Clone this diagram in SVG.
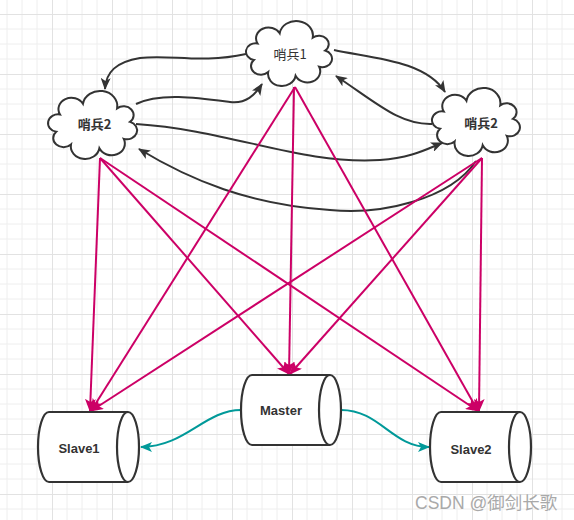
<svg xmlns="http://www.w3.org/2000/svg" xmlns:xlink="http://www.w3.org/1999/xlink" width="574" height="520" viewBox="0 0 574 520">
<style>
.cloud{fill:#ffffff;stroke:#333333;stroke-width:2;}
.cyl{fill:#ffffff;stroke:#333333;stroke-width:2.2;}
.cylin{fill:none;stroke:#333333;stroke-width:2.2;}
.lbl{font-family:"Liberation Sans","Noto Sans CJK SC",sans-serif;font-size:13px;font-weight:bold;fill:#333333;text-anchor:middle;}
.cn{font-family:"Noto Sans CJK SC",sans-serif;font-size:13px;fill:#333333;text-anchor:middle;}
.dark{fill:none;stroke:#333333;stroke-width:2;marker-end:url(#ad);}
.mag{fill:none;stroke:#cc0066;stroke-width:2;marker-end:url(#am);}
.teal{fill:none;stroke:#009999;stroke-width:2;marker-end:url(#at);}
.wm{font-family:"Liberation Sans","Noto Sans CJK SC",sans-serif;font-size:17.5px;fill:#a9a9a9;}
</style>
<defs>
<pattern id="grid" patternUnits="userSpaceOnUse" x="52" y="14" width="60" height="60">
<path d="M15 0V60M30 0V60M45 0V60M0 15H60M0 30H60M0 45H60" stroke="#eeeeee" stroke-width="1" fill="none"/>
<path d="M0.5 0V60M0 0.5H60" stroke="#e2e2e2" stroke-width="1" fill="none"/>
</pattern>
<path id="cloudp" vector-effect="non-scaling-stroke" d="M16.3 24 A1 1 0 0 1 35.7 13.7 A1 1 0 0 1 64.6 18.1 A1 1 0 0 1 75.5 31.2 A1 1 0 0 1 70.2 47.6 A1 1 0 0 1 49.6 56.7 A1 1 0 0 1 25.6 53 A1 1 0 0 1 13.1 40.7 A1 1 0 0 1 16.3 24 Z"/>
<marker id="ad" viewBox="0 0 12 10" markerUnits="userSpaceOnUse" markerWidth="12" markerHeight="10" refX="11" refY="5" orient="auto">
<path d="M0 0 L12 5 L0 10 L3 5 Z" fill="#333333"/>
</marker>
<marker id="am" viewBox="0 0 13 11" markerUnits="userSpaceOnUse" markerWidth="13" markerHeight="11" refX="12" refY="5.5" orient="auto">
<path d="M0 0 L13 5.5 L0 11 L3 5.5 Z" fill="#cc0066"/>
</marker>
<marker id="at" viewBox="0 0 12 10" markerUnits="userSpaceOnUse" markerWidth="12" markerHeight="10" refX="11" refY="5" orient="auto">
<path d="M0 0 L12 5 L0 10 L3 5 Z" fill="#009999"/>
</marker>
</defs>
<rect x="0" y="0" width="574" height="520" fill="#ffffff"/>
<rect x="0" y="0" width="574" height="520" fill="url(#grid)"/>

<g id="connectors">
<path class="dark" d="M246 54 C200 64, 170 54, 140 58 C116 62, 106 72, 105 89"/>
<path class="dark" d="M136 104 C160 92, 200 98, 230 102 C246 104, 255 95, 262 84"/>
<path class="dark" d="M334 50 C370 58, 425 60, 445 92"/>
<path class="dark" d="M432 124 C400 125, 378 104, 336 76"/>
<path class="dark" d="M136 124 C230 130, 300 165, 380 160 C410 158, 425 150, 442 143"/>
<path class="dark" d="M476 161 C450 200, 380 215, 330 210 C250 205, 190 180, 139 149"/>
<path class="mag" d="M100 158 L90 411"/>
<path class="mag" d="M100 158 L289 374"/>
<path class="mag" d="M100 158 L478 411"/>
<path class="mag" d="M295 87 L91 411"/>
<path class="mag" d="M294 87 L289 374"/>
<path class="mag" d="M295 87 L478 411"/>
<path class="mag" d="M482 158 L91 411"/>
<path class="mag" d="M482 158 L290 374"/>
<path class="mag" d="M482 158 L479 411"/>
<path class="teal" d="M241 410 C205 410, 185 447, 141 447"/>
<path class="teal" d="M341 410 C380 410, 392 447, 429 447"/>
</g>

<g id="sentinel1">
<use href="#cloudp" class="cloud" transform="translate(238.9 19.7) scale(1.143 0.989)"/>
<text class="cn" x="290" y="58.5">哨兵1</text>
</g>
<g id="sentinel2-left">
<use href="#cloudp" class="cloud" transform="translate(40.7 89.6) scale(1.183 1.035)"/>
<text class="cn" x="94.5" y="128.5" font-weight="bold">哨兵2</text>
</g>
<g id="sentinel2-right">
<use href="#cloudp" class="cloud" transform="translate(424.7 86.6) scale(1.169 1.035)"/>
<text class="cn" x="481" y="127.5" font-weight="bold">哨兵2</text>
</g>

<g id="slave1">
<path class="cyl" d="M49 412 L128 412 A11 35 0 0 1 128 482 L49 482 A11 35 0 0 1 49 412 Z"/>
<path class="cylin" d="M128 412 A11 35 0 0 0 128 482"/>
<text class="lbl" x="79" y="452.5">Slave1</text>
</g>
<g id="master">
<path class="cyl" d="M252 375 L330 375 A11 35 0 0 1 330 445 L252 445 A11 35 0 0 1 252 375 Z"/>
<path class="cylin" d="M330 375 A11 35 0 0 0 330 445"/>
<text class="lbl" x="281" y="415">Master</text>
</g>
<g id="slave2">
<path class="cyl" d="M441 412 L520 412 A11 35 0 0 1 520 482 L441 482 A11 35 0 0 1 441 412 Z"/>
<path class="cylin" d="M520 412 A11 35 0 0 0 520 482"/>
<text class="lbl" x="471" y="454">Slave2</text>
</g>

<text class="wm" x="415" y="509">CSDN @御剑长歌</text>
</svg>
